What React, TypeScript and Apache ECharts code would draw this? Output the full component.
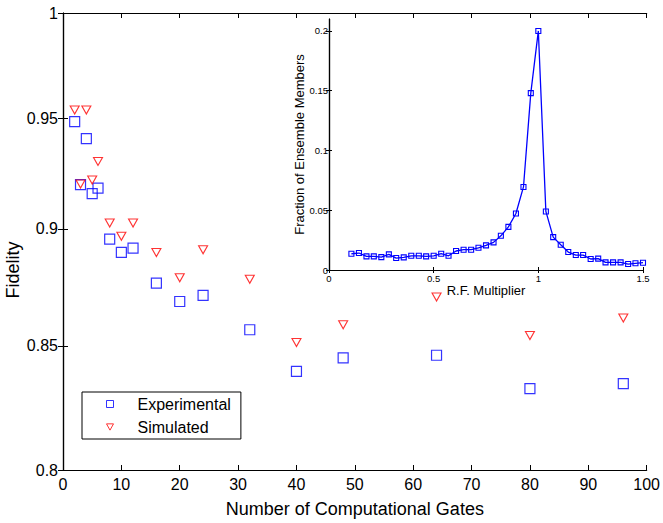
import React, { useEffect, useRef } from "react";
import * as echarts from "echarts";

const gates = [2, 3, 4, 5, 6, 8, 10, 12, 16, 20, 24, 32, 40, 48, 64, 80, 96];
const experimental = [0.9483, 0.9196, 0.9405, 0.9156, 0.918, 0.8955, 0.8897, 0.8915, 0.8764, 0.8686, 0.8712, 0.8567, 0.8395, 0.845, 0.8461, 0.8324, 0.8345];
const simulated = [0.9537, 0.9199, 0.9537, 0.9217, 0.9301, 0.9025, 0.8967, 0.9025, 0.8896, 0.8787, 0.8908, 0.8781, 0.8514, 0.8588, 0.8705, 0.8543, 0.8616];
const fidelityTicks = [0.8, 0.85, 0.9, 0.95, 1];

const rfMultiplier = [0.107, 0.143, 0.179, 0.214, 0.25, 0.286, 0.321, 0.357, 0.393, 0.429, 0.464, 0.5, 0.536, 0.571, 0.607, 0.643, 0.679, 0.714, 0.75, 0.786, 0.821, 0.857, 0.893, 0.929, 0.964, 1.0, 1.036, 1.071, 1.107, 1.143, 1.179, 1.214, 1.25, 1.286, 1.321, 1.357, 1.393, 1.429, 1.464, 1.5];
const ensembleFraction = [0.0136, 0.0142, 0.0114, 0.0114, 0.0108, 0.0131, 0.01, 0.0106, 0.0119, 0.0119, 0.0114, 0.0119, 0.0136, 0.0119, 0.0159, 0.017, 0.017, 0.0186, 0.0206, 0.0231, 0.0286, 0.0361, 0.0473, 0.0695, 0.148, 0.2, 0.049, 0.0275, 0.0211, 0.015, 0.0125, 0.0125, 0.0092, 0.0095, 0.0064, 0.0064, 0.0064, 0.005, 0.0056, 0.0061];
const insetYTicks = [0, 0.05, 0.1, 0.15, 0.2];

const FONT = "Liberation Sans, Arial, Helvetica, sans-serif";
const BLUE = "#0000ff";
const RED = "#ff0000";

export default function App() {
  const ref = useRef<HTMLDivElement>(null);
  useEffect(() => {
    if (!ref.current) return;
    const chart = echarts.init(ref.current, null, { renderer: "svg" });
    const axisLine = { show: true, lineStyle: { color: "#000", width: 1.2 } };
    const mainTick = { show: true, inside: true, length: 5, lineStyle: { color: "#000", width: 1 } };
    const insetTick = { show: true, inside: true, length: 3, lineStyle: { color: "#000", width: 1 } };
    const mainLabel = { color: "#000", fontSize: 16, fontFamily: FONT };
    const insetLabel = { color: "#000", fontSize: 9.5, fontFamily: FONT };
    const option: any = {
      animation: false,
      backgroundColor: "#fff",
      textStyle: { fontFamily: FONT },
      grid: [
        { left: 63, top: 13, width: 585, height: 460, containLabel: false },
        { left: 329, top: 19, width: 314, height: 251, show: true, backgroundColor: "#fff", borderWidth: 0, z: 3 },
      ],
      xAxis: [
        {
          gridIndex: 0, type: "value", min: 0, max: 100, interval: 10, position: "bottom",
          axisLine, axisTick: mainTick, splitLine: { show: false },
          axisLabel: { ...mainLabel, margin: 6 },
          name: "Number of Computational Gates", nameLocation: "middle", nameGap: 30,
          nameTextStyle: { color: "#000", fontSize: 18, fontFamily: FONT },
        },
        {
          gridIndex: 0, type: "value", min: 0, max: 100, interval: 10, position: "top",
          axisLine, axisTick: mainTick, splitLine: { show: false }, axisLabel: { show: false },
        },
        {
          gridIndex: 1, type: "value", min: 0, max: 1.5, interval: 0.5, position: "bottom",
          axisLine, axisTick: insetTick, splitLine: { show: false },
          axisLabel: { ...insetLabel, margin: 3 },
          name: "R.F. Multiplier", nameLocation: "middle", nameGap: 14,
          nameTextStyle: { color: "#000", fontSize: 13, fontFamily: FONT },
          z: 3,
        },
        {
          gridIndex: 1, type: "value", min: 0, max: 1.5, interval: 0.5, position: "top",
          axisLine, axisTick: insetTick, splitLine: { show: false }, axisLabel: { show: false }, z: 3,
        },
      ],
      yAxis: [
        {
          gridIndex: 0, type: "log", min: 0.8, max: 1, position: "left",
          axisLine, axisTick: { ...mainTick, customValues: fidelityTicks }, splitLine: { show: false },
          minorTick: { show: false },
          axisLabel: { ...mainLabel, margin: 5, customValues: fidelityTicks },
        },
        {
          gridIndex: 0, type: "log", min: 0.8, max: 1, position: "right",
          axisLine, axisTick: { ...mainTick, customValues: fidelityTicks }, splitLine: { show: false },
          axisLabel: { show: false },
        },
        {
          gridIndex: 1, type: "value", min: 0, max: 0.21, position: "left",
          axisLine, axisTick: { ...insetTick, customValues: insetYTicks }, splitLine: { show: false },
          axisLabel: { ...insetLabel, margin: 1, customValues: insetYTicks },
          name: "Fraction of Ensemble Members", nameLocation: "middle", nameGap: 21,
          nameTextStyle: { color: "#000", fontSize: 13, fontFamily: FONT },
          z: 3,
        },
        {
          gridIndex: 1, type: "value", min: 0, max: 0.21, position: "right",
          axisLine, axisTick: { ...insetTick, customValues: insetYTicks }, splitLine: { show: false },
          axisLabel: { show: false }, z: 3,
        },
      ],
      legend: {
        orient: "vertical",
        left: 82,
        top: 392,
        padding: [4, 10, 4, 24],
        itemWidth: 7,
        itemHeight: 7,
        itemGap: 7,
        borderColor: "#000",
        borderWidth: 1,
        backgroundColor: "#fff",
        itemStyle: { borderWidth: 1 },
        textStyle: { color: "#000", fontSize: 16, fontFamily: FONT, padding: [0, 0, 0, 19] },
        data: [
          { name: "Experimental" },
          { name: "Simulated", icon: "path://M0,0L10,0L5,9Z", itemStyle: { color: "rgba(0,0,0,0)", borderColor: RED, borderWidth: 1 } },
        ],
      },
      graphic: [
        {
          type: "text",
          x: 13,
          y: 270,
          rotation: Math.PI / 2,
          style: { text: "Fidelity", fontSize: 18, fontFamily: FONT, fill: "#000", align: "center", verticalAlign: "middle" },
        },
      ],
      series: [
        {
          name: "Experimental",
          type: "scatter",
          xAxisIndex: 0,
          yAxisIndex: 0,
          symbol: "rect",
          symbolSize: 10,
          itemStyle: { color: "rgba(0,0,0,0)", borderColor: BLUE, borderWidth: 1.2 },
          data: gates.map((g, i) => [g, experimental[i]]),
        },
        {
          name: "Simulated",
          type: "scatter",
          xAxisIndex: 0,
          yAxisIndex: 0,
          symbol: "triangle",
          symbolRotate: 180,
          symbolSize: [9, 8],
          itemStyle: { color: "rgba(0,0,0,0)", borderColor: RED, borderWidth: 1.1 },
          data: gates.map((g, i) => [g, simulated[i]]),
        },
        {
          name: "Inset",
          type: "line",
          xAxisIndex: 2,
          yAxisIndex: 2,
          symbol: "rect",
          symbolSize: 5,
          showAllSymbol: true,
          z: 5,
          lineStyle: { color: BLUE, width: 1.3 },
          itemStyle: { color: "rgba(0,0,0,0)", borderColor: BLUE, borderWidth: 1.1 },
          data: rfMultiplier.map((x, i) => [x, ensembleFraction[i]]),
        },
      ],
    };
    chart.setOption(option);
    return () => chart.dispose();
  }, []);
  return <div ref={ref} style={{ position: "fixed", left: 0, top: 0, width: 663, height: 523 }} />;
}
